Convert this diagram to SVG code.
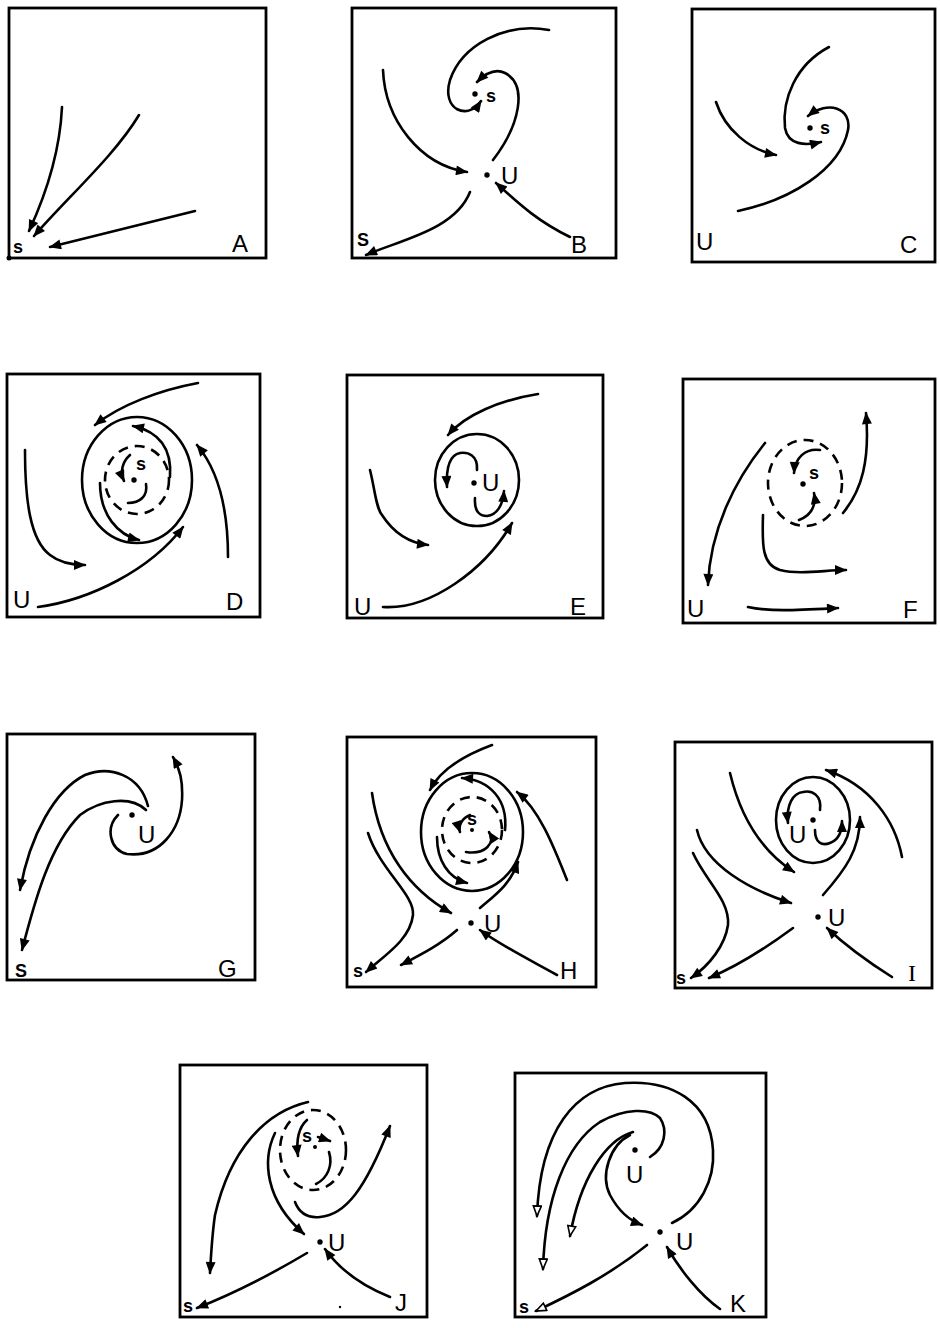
<svg xmlns="http://www.w3.org/2000/svg" width="940" height="1328" viewBox="0 0 940 1328">
<style>
.box{fill:none;stroke:#000;stroke-width:2.8}
.c{fill:none;stroke:#000;stroke-width:2.6;stroke-linecap:round}
.a{marker-end:url(#ah)}
.o{marker-end:url(#oh)}
.d{fill:none;stroke:#000;stroke-width:2.6;stroke-dasharray:10 7}
.lb{font-family:"Liberation Sans",Arial,sans-serif;font-size:24px;fill:#000}
.sm{font-family:"Liberation Sans",Arial,sans-serif;font-size:18px;font-weight:bold;fill:#000}
.dot{fill:#000}
</style>
<defs>
<marker id="ah" viewBox="0 0 12 10" refX="11" refY="5" markerWidth="15" markerHeight="10" markerUnits="userSpaceOnUse" orient="auto"><path d="M0,0 L12,5 L0,10 z" fill="#000"/></marker>
<marker id="oh" viewBox="0 0 12 10" refX="11" refY="5" markerWidth="15" markerHeight="10" markerUnits="userSpaceOnUse" orient="auto"><path d="M1,1 L11,5 L1,9 z" fill="#fff" stroke="#000" stroke-width="1.6"/></marker>
</defs>

<g id="panelA">
<rect class="box" x="9" y="8" width="257" height="250"/>
<circle class="dot" cx="9" cy="258" r="2.5"/>
<g id="connA">
<path class="c a" d="M62,107 C60,150 48,190 29,231"/>
<path class="c a" d="M139,115 C115,155 70,195 34,236"/>
<path class="c a" d="M195,211 L50,247"/>
</g>
<text class="sm" x="13" y="253">s</text>
<text class="lb" x="232" y="252">A</text>
</g>

<g id="panelB">
<rect class="box" x="352" y="8" width="264" height="250"/>
<g id="connB">
<path class="c a" d="M549,30 C505,22 462,45 450,80 C441,110 468,121 481,101"/>
<path class="c a" d="M493,160 C520,125 528,85 505,73 C495,68 485,74 477,82"/>
<path class="c a" d="M383,70 C385,120 420,165 467,172"/>
<path class="c a" d="M470,192 C455,230 400,240 366,255"/>
<path class="c a" d="M570,237 C535,220 515,200 496,183"/>
</g>
<circle class="dot" cx="475" cy="94" r="2.7"/>
<circle class="dot" cx="487" cy="175" r="2.7"/>
<text class="sm" x="486" y="102">s</text>
<text class="lb" x="501" y="184">U</text>
<text class="sm" x="357" y="246">S</text>
<text class="lb" x="571" y="253">B</text>
</g>

<g id="panelC">
<rect class="box" x="692" y="9" width="243" height="253"/>
<g id="connC">
<path class="c a" d="M716,102 C725,130 750,150 776,155"/>
<path class="c a" d="M829,47 C795,65 782,100 785,128 C788,145 805,146 821,142"/>
<path class="c a" d="M738,211 C790,200 840,170 848,130 C852,108 828,100 808,116"/>
</g>
<circle class="dot" cx="810" cy="128" r="2.7"/>
<text class="sm" x="820" y="134">s</text>
<text class="lb" x="696" y="250">U</text>
<text class="lb" x="900" y="253">C</text>
</g>

<g id="panelD">
<rect class="box" x="7" y="374" width="253" height="243"/>
<ellipse class="c" cx="137" cy="480" rx="55" ry="63"/>
<ellipse class="d" cx="137" cy="480" rx="32" ry="34"/>
<g id="connD">
<path class="c a" d="M198,383 C160,390 120,405 95,425"/>
<path class="c a" d="M170,477 C172,450 160,432 133,426"/>
<path class="c a" d="M100,483 C100,515 118,535 139,540"/>
<path class="c a" d="M130,455 C122,462 120,472 124,481"/>
<path class="c" d="M146,484 C148,496 140,503 128,503"/>
<path class="c a" d="M25,450 C25,500 30,540 50,555 C60,563 72,565 85,565"/>
<path class="c a" d="M228,557 C228,510 218,470 197,445"/>
<path class="c a" d="M38,607 C90,600 150,570 183,527"/>
</g>
<circle class="dot" cx="134" cy="480" r="2.7"/>
<text class="sm" x="136" y="470">s</text>
<text class="lb" x="13" y="608">U</text>
<text class="lb" x="226" y="610">D</text>
</g>

<g id="panelE">
<rect class="box" x="347" y="375" width="256" height="243"/>
<ellipse class="c" cx="477" cy="480" rx="42" ry="46"/>
<g id="connE">
<path class="c a" d="M538,394 C500,400 465,415 448,435"/>
<path class="c a" d="M477,470 C478,455 468,452 460,453 C450,455 446,468 447,487"/>
<path class="c a" d="M475,498 C474,512 480,516 487,516 C497,515 503,505 504,491"/>
<path class="c a" d="M370,470 C375,490 376,508 382,515 C395,535 410,543 428,545"/>
<path class="c a" d="M383,607 C430,610 485,570 512,523"/>
</g>
<circle class="dot" cx="474" cy="483" r="2.7"/>
<text class="lb" x="482" y="491">U</text>
<text class="lb" x="354" y="615">U</text>
<text class="lb" x="570" y="615">E</text>
</g>

<g id="panelF">
<rect class="box" x="683" y="379" width="252" height="244"/>
<ellipse class="d" cx="805" cy="483" rx="37" ry="43"/>
<g id="connF">
<path class="c a" d="M820,450 C805,448 795,458 794,473"/>
<path class="c a" d="M799,520 C812,515 816,505 814,493"/>
<path class="c a" d="M843,513 C862,490 870,460 866,413"/>
<path class="c a" d="M765,443 C735,480 710,530 708,585"/>
<path class="c a" d="M763,515 C762,545 762,565 780,570 C800,575 825,570 846,570"/>
<path class="c a" d="M748,607 C770,612 800,610 838,608"/>
</g>
<circle class="dot" cx="803" cy="484" r="2.7"/>
<text class="sm" x="809" y="479">s</text>
<text class="lb" x="687" y="617">U</text>
<text class="lb" x="903" y="618">F</text>
</g>

<g id="panelG">
<rect class="box" x="7" y="734" width="248" height="246"/>
<g id="connG">
<path class="c a" d="M148,806 C140,775 110,765 85,775 C55,790 30,835 20,890"/>
<path class="c a" d="M146,810 C130,795 100,800 80,815 C50,845 35,900 22,950"/>
<path class="c a" d="M118,815 C105,828 110,850 127,854 C160,858 180,830 182,800 C183,780 180,770 173,757"/>
</g>
<circle class="dot" cx="132" cy="815" r="2.7"/>
<text class="lb" x="138" y="843">U</text>
<text class="sm" x="15" y="977">S</text>
<text class="lb" x="218" y="977">G</text>
</g>

<g id="panelH">
<rect class="box" x="347" y="737" width="249" height="250"/>
<ellipse class="c" cx="472" cy="832" rx="51" ry="59"/>
<ellipse class="d" cx="472" cy="830" rx="30" ry="33"/>
<g id="connH">
<path class="c a" d="M492,745 C465,755 440,770 430,790"/>
<path class="c a" d="M505,830 C508,800 490,780 462,778"/>
<path class="c a" d="M437,837 C437,860 448,878 467,883"/>
<path class="c a" d="M470,815 C462,818 458,826 460,832"/>
<path class="c a" d="M466,852 C485,855 496,843 489,832"/>
<path class="c a" d="M567,880 C555,850 540,810 517,792"/>
<path class="c a" d="M480,908 C495,895 510,885 518,862"/>
<path class="c a" d="M372,793 C380,850 410,890 451,913"/>
<path class="c a" d="M368,833 C380,870 415,895 413,915 C410,940 385,955 366,972"/>
<path class="c a" d="M457,930 C440,945 420,955 401,965"/>
<path class="c a" d="M557,975 C530,960 500,945 480,930"/>
</g>
<circle class="dot" cx="471" cy="923" r="2.7"/>
<circle class="dot" cx="472" cy="830" r="2"/>
<text class="sm" x="467" y="825">s</text>
<text class="lb" x="484" y="932">U</text>
<text class="sm" x="353" y="977">s</text>
<text class="lb" x="560" y="979">H</text>
</g>

<g id="panelI">
<rect class="box" x="675" y="742" width="257" height="246"/>
<ellipse class="c" cx="813" cy="820" rx="37" ry="43"/>
<g id="connI">
<path class="c a" d="M820,810 C822,795 812,790 803,792 C793,793 786,805 788,823"/>
<path class="c a" d="M815,830 C815,843 822,846 830,843 C838,840 842,832 842,821"/>
<path class="c a" d="M823,895 C845,870 860,850 860,817"/>
<path class="c a" d="M902,857 C895,820 870,785 826,770"/>
<path class="c a" d="M730,773 C740,815 760,850 794,872"/>
<path class="c a" d="M697,830 C705,865 750,890 791,903"/>
<path class="c a" d="M693,853 C705,880 730,900 728,925 C725,945 710,965 691,978"/>
<path class="c a" d="M793,928 C770,945 740,965 709,978"/>
<path class="c a" d="M892,977 C865,960 845,945 827,928"/>
</g>
<circle class="dot" cx="813" cy="820" r="2.7"/>
<text class="lb" x="789" y="843">U</text>
<circle class="dot" cx="818" cy="917" r="2.7"/>
<text class="lb" x="828" y="926">U</text>
<text class="sm" x="676" y="984">s</text>
<text class="lb" x="908" y="981" style="font-family:'Liberation Serif',serif">I</text>
</g>

<g id="panelJ">
<rect class="box" x="180" y="1065" width="247" height="252"/>
<ellipse class="d" cx="313" cy="1150" rx="33" ry="40"/>
<g id="connJ">
<path class="c a" d="M308,1102 C265,1112 230,1150 215,1215 C212,1235 211,1255 210,1273"/>
<path class="c a" d="M307,1120 C298,1128 296,1140 298,1156"/>
<path class="c a" d="M318,1137 L330,1141"/>
<path class="c" d="M329,1152 C333,1165 328,1178 316,1184"/>
<path class="c a" d="M275,1133 C262,1160 265,1200 304,1234"/>
<path class="c a" d="M295,1202 C300,1215 310,1218 320,1217 C345,1215 365,1190 390,1126"/>
<path class="c a" d="M307,1253 C270,1275 230,1295 197,1308"/>
<path class="c a" d="M390,1297 C360,1285 340,1270 325,1249"/>
</g>
<circle class="dot" cx="315" cy="1147" r="2"/>
<text class="sm" x="302" y="1142">s</text>
<circle class="dot" cx="320" cy="1242" r="2.7"/>
<text class="lb" x="328" y="1251">U</text>
<circle class="dot" cx="340" cy="1307" r="1.2"/>
<text class="sm" x="183" y="1312">s</text>
<text class="lb" x="395" y="1311">J</text>
</g>

<g id="panelK">
<rect class="box" x="515" y="1073" width="251" height="244"/>
<g id="connK">
<path class="c o" d="M672,1223 C700,1210 715,1180 713,1150 C710,1100 670,1080 625,1083 C575,1087 540,1130 537,1216"/>
<path class="c o" d="M650,1157 C665,1148 668,1130 660,1118 C650,1108 625,1108 600,1122 C565,1145 545,1200 543,1269"/>
<path class="c o" d="M633,1132 C605,1140 580,1180 570,1236"/>
<path class="c a" d="M630,1135 C610,1145 600,1175 610,1195 C618,1210 628,1220 642,1225"/>
<path class="c o" d="M647,1245 C610,1275 570,1295 536,1311"/>
<path class="c a" d="M720,1309 C700,1295 680,1270 667,1247"/>
</g>
<circle class="dot" cx="635" cy="1150" r="2.7"/>
<text class="lb" x="626" y="1183">U</text>
<circle class="dot" cx="660" cy="1232" r="2.7"/>
<text class="lb" x="676" y="1250">U</text>
<text class="sm" x="519" y="1313">s</text>
<text class="lb" x="730" y="1312">K</text>
</g>
</svg>
